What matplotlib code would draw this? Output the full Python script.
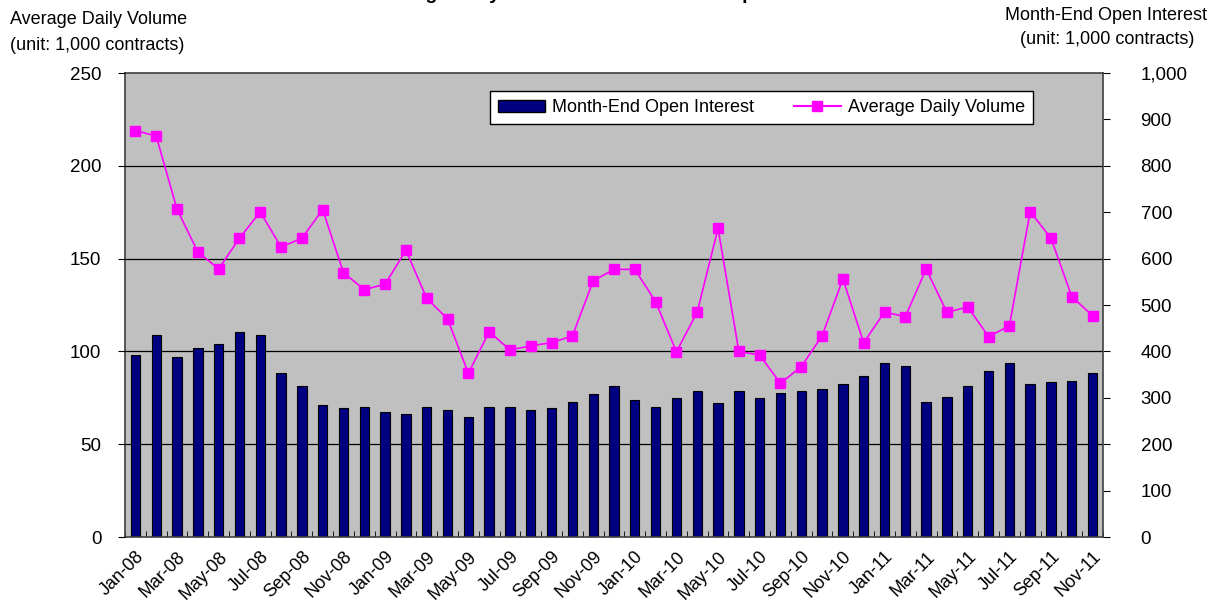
import matplotlib
matplotlib.use('Agg')
import matplotlib.pyplot as plt
import numpy as np
from matplotlib.ticker import FuncFormatter, FixedLocator
from matplotlib.lines import Line2D
from matplotlib.patches import Patch

plt.rcParams['font.family'] = ['Liberation Sans', 'DejaVu Sans']

# months Jan-08 .. Nov-11
years = ['08', '09', '10', '11']
mon_names = ['Jan', 'Feb', 'Mar', 'Apr', 'May', 'Jun',
             'Jul', 'Aug', 'Sep', 'Oct', 'Nov', 'Dec']
months = [m + '-' + y for y in years for m in mon_names][:47]

# Month-End Open Interest (right axis, 1,000 contracts)
open_interest = [392, 435, 387, 407, 417, 442, 435, 354, 325, 285,
                 277, 281, 270, 266, 281, 274, 259, 281, 281, 274,
                 277, 292, 308, 325, 296, 281, 299, 314, 288, 314,
                 299, 310, 314, 318, 330, 347, 376, 369, 292, 302,
                 325, 358, 374, 330, 333, 336, 354]

# Average Daily Volume (left axis, 1,000 contracts)
avg_volume = [219, 216, 176.6, 153.6, 144.4, 161, 175.2, 156.2, 161, 176.4,
              142.4, 133.3, 136.2, 154.5, 128.6, 117.5, 88.2, 110.6, 100.8, 103,
              104.7, 108.3, 138, 144.2, 144.2, 126.8, 99.8, 121.2, 166.3, 100,
              98, 82.8, 91.8, 108.4, 139, 104.7, 121.2, 118.7, 144.4, 121,
              124, 108, 113.7, 175.3, 161, 129.5, 119.2]

x = np.arange(len(months))

fig = plt.figure(figsize=(12.12, 6.08), dpi=100)
ax = fig.add_axes([125 / 1212, 1 - 537 / 608, 978 / 1212, 464 / 608])
ax2 = ax.twinx()

# bars on the right-hand scale
ax.set_facecolor('#C0C0C0')
ax.bar(x, open_interest, width=0.45, color='#000080', edgecolor='black', linewidth=0.8, zorder=2)
ax.set_ylim(0, 1000)
ax.set_xlim(-0.5, len(months) - 0.5)
ax.yaxis.tick_right()
ax.set_yticks(np.arange(0, 1001, 100))
ax.yaxis.set_major_formatter(FuncFormatter(lambda v, p: f'{int(v):,}'))
ax.tick_params(axis='y', labelsize=13.5, length=5, direction='out', pad=22)
ax.set_axisbelow(True)
for g in [200, 400, 600, 800]:
    ax.axhline(g, color='black', linewidth=0.9, zorder=1)

# x axis
ax.set_xticks(x[::2])
ax.set_xticklabels(months[::2], rotation=45, ha='right', rotation_mode='anchor', fontsize=13)
ax.xaxis.set_minor_locator(FixedLocator(np.arange(-0.5, len(months), 1)))
ax.tick_params(axis='x', which='major', length=0, pad=8)
ax.tick_params(axis='x', which='minor', length=4, direction='in')

for s in ax.spines.values():
    s.set_color('#404040')
    s.set_linewidth(1.2)

# line on the left-hand scale
ax2.plot(x, avg_volume, color='#FF00FF', linewidth=1.2, marker='s', markersize=7,
         markerfacecolor='#FF00FF', markeredgecolor='#FF00FF')
ax2.set_ylim(0, 250)
ax2.yaxis.tick_left()
ax2.set_yticks(np.arange(0, 251, 50))
ax2.tick_params(axis='y', labelsize=13.5, length=5, direction='out', pad=12)
for s in ax2.spines.values():
    s.set_visible(False)

handles = [Patch(facecolor='#000080', edgecolor='black', label='Month-End Open Interest'),
           Line2D([0], [0], color='#FF00FF', marker='s', markersize=7, label='Average Daily Volume')]
leg = ax2.legend(handles=handles, ncol=2, loc='upper left', bbox_to_anchor=(0.373, 0.961),
                 fontsize=13, frameon=True, fancybox=False, edgecolor='black', framealpha=1,
                 borderpad=0.45, columnspacing=2.2, handlelength=2.6, handletextpad=0.4,
                 borderaxespad=0)
leg.get_frame().set_linewidth(1.0)

# axis titles
fig.text(10 / 1212, 1 - 20 / 608, 'Average Daily Volume', fontsize=13, va='center', ha='left')
fig.text(10 / 1212, 1 - 45 / 608, '(unit: 1,000 contracts)', fontsize=13, va='center', ha='left')
fig.text(1207 / 1212, 1 - 15 / 608, 'Month-End Open Interest', fontsize=13, va='center', ha='right')
fig.text(1107 / 1212, 1 - 40 / 608, '(unit: 1,000 contracts)', fontsize=13, va='center', ha='center')

# chart title (clipped at the top in the original)
fig.text(0.505, 1 + 1 / 608, 'Average Daily Volume and Month-End Open Interest',
         fontsize=14, fontweight='bold', ha='center', va='baseline')

fig.savefig('out.png', dpi=100)
